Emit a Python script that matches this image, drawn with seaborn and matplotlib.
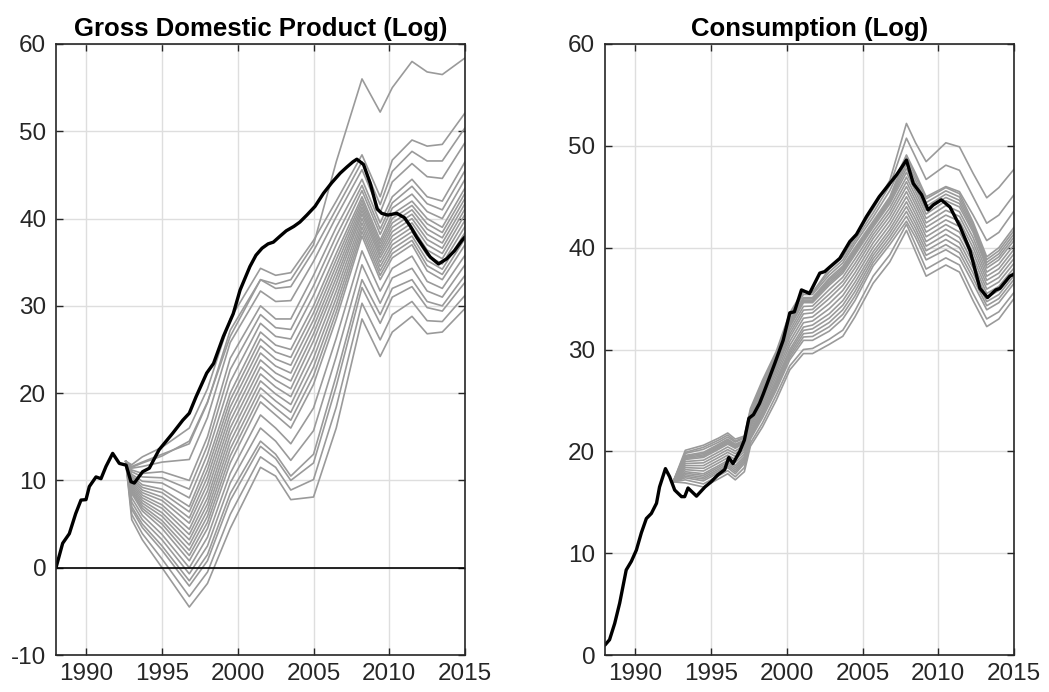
import matplotlib
matplotlib.use("Agg")
import matplotlib.pyplot as plt
import numpy as np
import pandas as pd
import seaborn as sns

# ---------------- data ----------------
gdp_years = [1988.0, 1988.44, 1988.88, 1989.3, 1989.65, 1989.98, 1990.2, 1990.64, 1990.97, 1991.3,
             1991.74, 1992.18, 1992.63, 1992.95, 1993.17, 1993.72, 1994.16, 1994.8, 1995.7, 1996.37,
             1996.8, 1997.25, 1997.95, 1998.4, 1999.05, 1999.7, 2000.15, 2000.8, 2001.2, 2001.6,
             2002.0, 2002.35, 2002.8, 2003.2, 2003.7, 2004.1, 2004.56, 2005.1, 2005.66, 2006.2,
             2006.76, 2007.2, 2007.6, 2007.86, 2008.3, 2008.75, 2009.2, 2009.5, 2009.9, 2010.5,
             2011.0, 2011.4, 2011.8, 2012.3, 2012.7, 2013.25, 2013.8, 2014.3, 2014.8, 2015.0]
gdp_actual = [0.0, 2.8, 3.9, 6.2, 7.75, 7.8, 9.3, 10.4, 10.2, 11.6,
              13.1, 11.95, 11.75, 9.85, 9.7, 11.0, 11.4, 13.5, 15.4, 16.9,
              17.7, 19.6, 22.3, 23.4, 26.5, 29.1, 31.8, 34.5, 35.8, 36.6,
              37.1, 37.3, 38.0, 38.6, 39.1, 39.6, 40.4, 41.4, 42.9, 44.1,
              45.2, 45.9, 46.5, 46.8, 46.2, 44.0, 41.1, 40.6, 40.4, 40.6,
              40.1, 39.1, 37.9, 36.6, 35.6, 34.8, 35.4, 36.3, 37.5, 37.9]

gdp_path_years = [1992.6, 1993.0, 1993.7, 1995.0, 1996.8, 1998.0, 1999.5, 2001.5, 2002.5, 2003.5,
                  2005.0, 2006.5, 2008.2, 2009.4, 2010.2, 2011.5, 2012.5, 2013.5, 2015.0]
gdp_paths = [
    [12.2, 5.5, 3.2, 0.0, -4.5, -1.8, 4.5, 11.5, 10.5, 7.8, 8.1, 16.0, 28.5, 24.2, 27.0, 28.8, 26.8, 27.0, 29.7],
    [12.2, 6.1, 3.9, 1.0, -3.3, -0.5, 6.1, 12.7, 11.5, 8.9, 10.1, 18.4, 30.3, 26.1, 29.0, 30.5, 28.3, 28.2, 31.2],
    [12.2, 6.7, 4.6, 2.0, -2.1, 0.8, 7.7, 13.9, 12.5, 10.0, 12.0, 20.8, 32.1, 28.0, 31.0, 32.2, 29.8, 29.4, 32.7],
    [12.2, 7.0, 5.0, 2.5, -1.5, 1.5, 8.5, 14.5, 13.0, 10.5, 13.0, 22.0, 33.0, 29.0, 32.0, 33.0, 30.5, 30.0, 33.5],
    [12.2, 7.5, 5.5, 3.2, -0.7, 2.5, 9.7, 16.0, 14.5, 12.3, 15.7, 24.2, 34.7, 30.3, 33.2, 34.3, 31.7, 31.0, 34.7],
    [12.2, 8.0, 6.0, 3.8, 0.0, 3.5, 10.8, 17.5, 16.0, 14.2, 18.3, 26.3, 36.3, 31.7, 34.3, 35.7, 32.8, 32.0, 35.8],
    [12.2, 8.5, 6.5, 4.5, 0.8, 4.5, 12.0, 19.0, 17.5, 16.0, 21.0, 28.5, 38.0, 33.0, 35.5, 37.0, 34.0, 33.0, 37.0],
    [12.2, 8.7, 6.8, 5.0, 1.4, 5.2, 12.8, 19.8, 18.3, 16.9, 22.0, 29.3, 38.5, 33.5, 36.0, 37.5, 34.6, 33.6, 37.7],
    [12.2, 8.9, 7.1, 5.4, 2.0, 5.9, 13.6, 20.6, 19.1, 17.8, 23.0, 30.1, 39.0, 34.0, 36.5, 38.0, 35.2, 34.2, 38.4],
    [12.2, 9.1, 7.4, 5.9, 2.6, 6.6, 14.4, 21.4, 19.9, 18.7, 24.0, 30.9, 39.5, 34.5, 37.0, 38.5, 35.8, 34.8, 39.1],
    [12.2, 9.3, 7.7, 6.3, 3.2, 7.3, 15.2, 22.2, 20.7, 19.6, 25.0, 31.7, 40.0, 35.0, 37.5, 39.0, 36.4, 35.4, 39.8],
    [12.2, 9.5, 8.0, 6.8, 3.8, 8.0, 16.0, 23.0, 21.5, 20.5, 26.0, 32.5, 40.5, 35.5, 38.0, 39.5, 37.0, 36.0, 40.5],
    [12.2, 9.7, 8.3, 7.2, 4.4, 8.8, 16.8, 23.8, 22.3, 21.4, 26.8, 33.2, 40.9, 35.9, 38.5, 40.0, 37.6, 36.6, 41.1],
    [12.2, 9.9, 8.6, 7.7, 5.1, 9.6, 17.6, 24.6, 23.1, 22.3, 27.6, 33.9, 41.3, 36.3, 39.0, 40.5, 38.2, 37.2, 41.7],
    [12.2, 10.1, 8.9, 8.1, 5.7, 10.4, 18.4, 25.4, 23.9, 23.2, 28.4, 34.6, 41.7, 36.7, 39.5, 41.0, 38.8, 37.8, 42.3],
    [12.2, 10.3, 9.2, 8.6, 6.4, 11.2, 19.2, 26.2, 24.7, 24.1, 29.2, 35.3, 42.1, 37.1, 40.0, 41.5, 39.4, 38.4, 42.9],
    [12.2, 10.5, 9.5, 9.0, 7.0, 12.0, 20.0, 27.0, 25.5, 25.0, 30.0, 36.0, 42.5, 37.5, 40.5, 42.0, 40.0, 39.0, 43.5],
    [12.2, 10.7, 9.9, 9.7, 8.0, 13.0, 21.3, 28.0, 26.5, 26.2, 31.2, 37.0, 43.2, 38.2, 41.2, 42.8, 40.8, 40.0, 44.5],
    [12.2, 11.0, 10.4, 10.3, 9.0, 14.0, 22.7, 29.0, 27.5, 27.3, 32.3, 38.0, 43.8, 38.8, 41.8, 43.7, 41.7, 41.0, 45.5],
    [12.2, 11.2, 10.8, 11.0, 10.0, 15.0, 24.0, 30.0, 28.5, 28.5, 33.5, 39.0, 44.5, 39.5, 42.5, 44.5, 42.5, 42.0, 46.5],
    [12.2, 11.4, 11.6, 12.1, 12.4, 17.2, 25.8, 31.7, 30.5, 30.6, 35.1, 40.2, 45.6, 40.7, 44.2, 46.3, 44.8, 44.6, 48.7],
    [12.2, 11.6, 12.1, 13.0, 14.2, 18.9, 27.2, 33.0, 32.0, 32.2, 36.3, 41.1, 46.5, 41.6, 45.4, 47.7, 46.6, 46.6, 50.4],
    [12.2, 11.8, 12.7, 13.8, 16.0, 20.5, 28.5, 34.3, 33.5, 33.8, 37.5, 42.0, 47.3, 42.5, 46.7, 49.0, 48.3, 48.5, 52.1],
    [12.2, 11.5, 12.0, 12.8, 14.5, 19.0, 26.5, 33.0, 32.5, 33.0, 37.0, 46.5, 56.0, 52.2, 55.0, 58.0, 56.8, 56.5, 58.4],
]

cons_years = [1988.0, 1988.3, 1988.64, 1988.97, 1989.4, 1989.74, 1990.07, 1990.4, 1990.73, 1991.06,
              1991.4, 1991.6, 1991.99, 1992.27, 1992.6, 1993.05, 1993.26, 1993.48, 1994.04, 1994.6,
              1995.0, 1995.46, 1995.9, 1996.17, 1996.45, 1996.9, 1997.2, 1997.5, 1997.8, 1998.2,
              1998.44, 1999.2, 1999.76, 2000.2, 2000.5, 2000.97, 2001.5, 2002.18, 2002.5, 2002.84,
              2003.5, 2004.16, 2004.6, 2005.26, 2006.1, 2007.25, 2007.9, 2008.35, 2008.9, 2009.33,
              2009.67, 2010.2, 2010.77, 2011.43, 2012.1, 2012.75, 2013.25, 2013.8, 2014.07, 2014.73, 2015.0]
cons_actual = [0.98, 1.5, 3.1, 5.1, 8.35, 9.2, 10.3, 12.0, 13.4, 13.9,
               14.9, 16.5, 18.3, 17.5, 16.2, 15.55, 15.55, 16.4, 15.6, 16.5,
               17.0, 17.7, 18.2, 19.4, 18.8, 20.0, 21.1, 23.25, 23.6, 24.7,
               25.6, 28.6, 30.9, 33.6, 33.7, 35.85, 35.5, 37.5, 37.65, 38.1,
               38.95, 40.6, 41.3, 43.05, 45.0, 47.15, 48.6, 46.3, 45.2, 43.7,
               44.2, 44.7, 44.0, 42.1, 39.7, 36.0, 35.1, 35.85, 36.0, 37.2, 37.4]

cons_path_years = [1992.5, 1993.3, 1994.5, 1995.5, 1996.1, 1996.6, 1997.2, 1997.6, 1998.4, 1999.3,
                   2000.2, 2001.1, 2001.7, 2002.8, 2003.7, 2004.5, 2005.7, 2006.8, 2007.9, 2008.5,
                   2009.2, 2010.5, 2011.4, 2012.3, 2013.2, 2014.0, 2015.0]
cons_paths = [
    [17.0, 16.9, 16.5, 17.3, 17.8, 17.2, 18.0, 20.5, 22.4, 25.0, 28.0, 29.6, 29.6, 30.5, 31.3, 33.2, 36.5, 38.6, 41.7, 39.6, 37.2, 38.3, 37.6, 34.8, 32.25, 33.0, 35.0],
    [17.0, 17.2, 16.8, 17.6, 18.1, 17.5, 18.4, 20.8, 22.8, 25.5, 28.4, 30.0, 30.1, 31.0, 31.9, 33.8, 37.2, 39.3, 42.3, 40.3, 37.9, 39.0, 38.3, 35.5, 33.0, 33.7, 35.6],
    [17.0, 17.4, 17.1, 17.9, 18.4, 17.8, 18.8, 21.2, 23.3, 26.0, 29.0, 30.9, 30.9, 31.8, 33.0, 34.8, 38.2, 40.3, 42.6, 41.0, 38.8, 39.8, 39.0, 36.5, 33.9, 34.6, 36.5],
    [17.0, 17.55, 17.28, 18.08, 18.58, 18.0, 18.98, 21.38, 23.53, 26.25, 29.25, 31.23, 31.28, 32.23, 33.45, 35.25, 38.55, 40.68, 43.08, 41.45, 39.25, 40.3, 39.5, 37.0, 34.3, 35.0, 36.88],
    [17.0, 17.7, 17.45, 18.25, 18.75, 18.2, 19.15, 21.55, 23.75, 26.5, 29.5, 31.55, 31.65, 32.65, 33.9, 35.7, 38.9, 41.05, 43.55, 41.9, 39.7, 40.8, 40.0, 37.5, 34.7, 35.4, 37.25],
    [17.0, 17.85, 17.63, 18.43, 18.93, 18.4, 19.33, 21.73, 23.98, 26.75, 29.75, 31.88, 32.03, 33.08, 34.35, 36.15, 39.25, 41.43, 44.03, 42.35, 40.15, 41.3, 40.5, 38.0, 35.1, 35.8, 37.63],
    [17.0, 18.0, 17.8, 18.6, 19.1, 18.6, 19.5, 21.9, 24.2, 27.0, 30.0, 32.2, 32.4, 33.5, 34.8, 36.6, 39.6, 41.8, 44.5, 42.8, 40.6, 41.8, 41.0, 38.5, 35.5, 36.2, 38.0],
    [17.0, 18.2, 18.07, 18.87, 19.37, 18.9, 19.73, 22.13, 24.47, 27.33, 30.4, 32.63, 32.8, 34.0, 35.3, 37.07, 40.03, 42.23, 45.0, 43.27, 41.07, 42.27, 41.53, 39.0, 35.93, 36.63, 38.47],
    [17.0, 18.4, 18.33, 19.13, 19.63, 19.2, 19.97, 22.37, 24.73, 27.67, 30.8, 33.07, 33.2, 34.5, 35.8, 37.53, 40.47, 42.67, 45.5, 43.73, 41.53, 42.73, 42.07, 39.5, 36.37, 37.07, 38.93],
    [17.0, 18.6, 18.6, 19.4, 19.9, 19.5, 20.2, 22.6, 25.0, 28.0, 31.2, 33.5, 33.6, 35.0, 36.3, 38.0, 40.9, 43.1, 46.0, 44.2, 42.0, 43.2, 42.6, 40.0, 36.8, 37.5, 39.4],
    [17.0, 18.8, 18.87, 19.67, 20.17, 19.77, 20.4, 22.8, 25.27, 28.23, 31.53, 33.87, 33.93, 35.43, 36.7, 38.43, 41.27, 43.5, 46.47, 44.63, 42.43, 43.67, 43.07, 40.5, 37.2, 37.93, 39.83],
    [17.0, 19.0, 19.13, 19.93, 20.43, 20.03, 20.6, 23.0, 25.53, 28.47, 31.87, 34.23, 34.27, 35.87, 37.1, 38.87, 41.63, 43.9, 46.93, 45.07, 42.87, 44.13, 43.53, 41.0, 37.6, 38.37, 40.27],
    [17.0, 19.2, 19.4, 20.2, 20.7, 20.3, 20.8, 23.2, 25.8, 28.7, 32.2, 34.6, 34.6, 36.3, 37.5, 39.3, 42.0, 44.3, 47.4, 45.5, 43.3, 44.6, 44.0, 41.5, 38.0, 38.8, 40.7],
    [17.0, 19.3, 19.53, 20.33, 20.83, 20.4, 20.88, 23.3, 25.93, 28.83, 32.38, 34.73, 34.73, 36.48, 37.68, 39.48, 42.15, 44.48, 47.8, 45.88, 43.68, 44.93, 44.33, 41.75, 38.28, 39.1, 41.03],
    [17.0, 19.4, 19.65, 20.45, 20.95, 20.5, 20.95, 23.4, 26.05, 28.95, 32.55, 34.85, 34.85, 36.65, 37.85, 39.65, 42.3, 44.65, 48.2, 46.25, 44.05, 45.25, 44.65, 42.0, 38.55, 39.4, 41.35],
    [17.0, 19.5, 19.78, 20.58, 21.08, 20.6, 21.03, 23.5, 26.18, 29.08, 32.73, 34.98, 34.98, 36.83, 38.03, 39.83, 42.45, 44.83, 48.6, 46.63, 44.43, 45.58, 44.98, 42.25, 38.83, 39.7, 41.68],
    [17.0, 19.6, 19.9, 20.7, 21.2, 20.7, 21.1, 23.6, 26.3, 29.2, 32.9, 35.1, 35.1, 37.0, 38.2, 40.0, 42.6, 45.0, 49.0, 47.0, 44.8, 45.9, 45.3, 42.5, 39.1, 40.0, 42.0],
    [17.0, 19.8, 20.2, 20.9, 21.4, 20.9, 21.3, 23.8, 26.6, 29.4, 33.2, 35.4, 35.4, 37.3, 38.5, 40.4, 43.0, 45.6, 49.1, 47.3, 45.0, 46.0, 45.5, 43.2, 40.7, 41.5, 43.6],
    [17.0, 19.9, 20.4, 21.1, 21.6, 21.0, 21.4, 24.0, 26.8, 29.6, 33.4, 35.6, 35.6, 37.6, 38.8, 40.7, 43.4, 46.1, 50.75, 48.9, 46.7, 48.1, 47.6, 45.0, 42.4, 43.2, 45.2],
    [17.0, 20.1, 20.6, 21.3, 21.8, 21.2, 21.5, 24.2, 27.0, 29.8, 33.6, 35.8, 35.6, 37.9, 39.1, 41.0, 43.8, 46.6, 52.2, 50.3, 48.45, 50.3, 49.9, 47.3, 44.9, 45.9, 47.7],
]

x_ticks = [1990, 1995, 2000, 2005, 2010, 2015]
gdp_y_ticks = [-10, 0, 10, 20, 30, 40, 50, 60]
cons_y_ticks = [0, 10, 20, 30, 40, 50, 60]
titles = ["Gross Domestic Product (Log)", "Consumption (Log)"]

# ---------------- style ----------------
sns.set_theme(style="whitegrid")
plt.rcParams["font.family"] = ["Liberation Sans", "DejaVu Sans"]
plt.rcParams["axes.unicode_minus"] = False

TXT = "#262626"
GREY = "#9a9a9a"


def paths_frame(years, paths):
    rows = []
    for i, p in enumerate(paths):
        for x, y in zip(years, p):
            rows.append((i, x, y))
    return pd.DataFrame(rows, columns=["path", "year", "value"])


fig = plt.figure(figsize=(10.49, 6.92), dpi=100)
ax1 = fig.add_axes([56 / 1049, 1 - 655 / 692, 409 / 1049, 611 / 692])
ax2 = fig.add_axes([605 / 1049, 1 - 655 / 692, 409 / 1049, 611 / 692])

panels = [
    (ax1, gdp_years, gdp_actual, gdp_path_years, gdp_paths, (-10, 60), gdp_y_ticks, titles[0]),
    (ax2, cons_years, cons_actual, cons_path_years, cons_paths, (0, 60), cons_y_ticks, titles[1]),
]

for ax, yrs, act, pyrs, paths, ylim, yt, title in panels:
    ax.set_facecolor("white")
    ax.grid(True, color="#dedede", linewidth=1.0)
    df = paths_frame(pyrs, paths)
    sns.lineplot(data=df, x="year", y="value", units="path", estimator=None,
                 color=GREY, linewidth=1.2, ax=ax, legend=False, sort=False, zorder=2)
    if ylim[0] < 0:
        ax.axhline(0, color="black", linewidth=1.2, zorder=3)
    sns.lineplot(x=yrs, y=act, color="black", linewidth=2.4, ax=ax, sort=False, zorder=4)
    ax.set_xlim(1988, 2015)
    ax.set_ylim(*ylim)
    ax.set_xticks(x_ticks)
    ax.set_yticks(yt)
    ax.set_xlabel("")
    ax.set_ylabel("")
    for s in ax.spines.values():
        s.set_visible(True)
        s.set_color(TXT)
        s.set_linewidth(1.2)
        s.set_zorder(5)
    ax.tick_params(axis="both", which="major", direction="in", length=5, width=1.0,
                   color=TXT, labelcolor=TXT, labelsize=17.5,
                   bottom=True, top=True, left=True, right=True,
                   labelbottom=True, labeltop=False, labelleft=True, labelright=False)
    ax.tick_params(axis="x", pad=6)
    ax.tick_params(axis="y", pad=7)
    ax.set_title(title, fontsize=18.5, fontweight="bold", color="black", pad=6)

fig.savefig("out.png", dpi=100, facecolor="white")
